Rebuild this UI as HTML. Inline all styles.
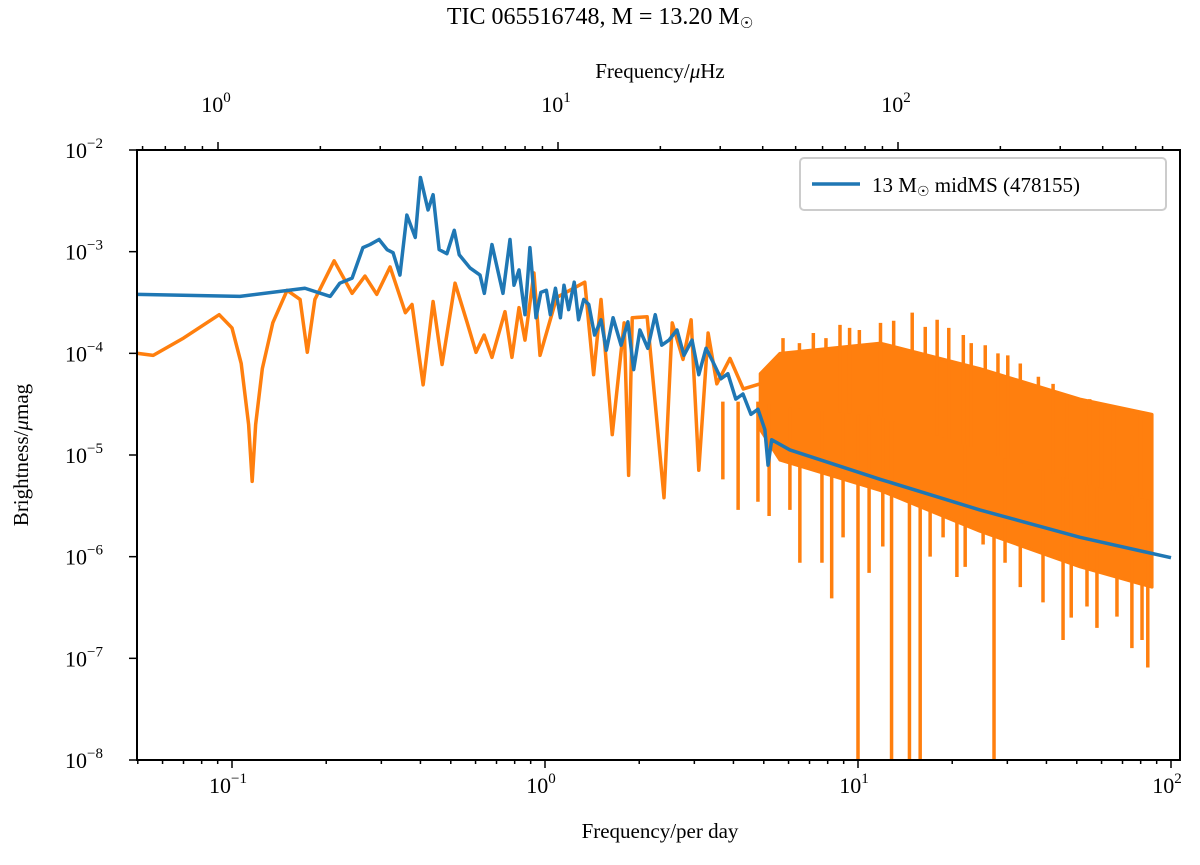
<!DOCTYPE html>
<html><head><meta charset="utf-8"><style>
html,body{margin:0;padding:0;background:#fff;}
svg text{font-family:"Liberation Serif","DejaVu Serif",serif;fill:#000;}
</style></head><body>
<svg id="chart" width="1200" height="860" viewBox="0 0 1200 860" xmlns="http://www.w3.org/2000/svg">
<text x="600" y="24" text-anchor="middle" font-size="24">TIC 065516748, M = 13.20 M<tspan font-family="DejaVu Sans" font-size="15" dy="4">☉</tspan></text>
<text x="660" y="78" text-anchor="middle" font-size="21">Frequency/<tspan font-style="italic">μ</tspan>Hz</text>
<text x="660" y="838" text-anchor="middle" font-size="21">Frequency/per day</text>
<text x="28" y="455" text-anchor="middle" font-size="21" transform="rotate(-90 28 455)">Brightness/<tspan font-style="italic">μ</tspan>mag</text>
<g id="plot"></g>
<g id="axes"></g>
<g>
<rect x="800" y="158" width="366" height="52" rx="4" fill="#fff" stroke="#ccc" stroke-width="2"/>
<line x1="812" y1="184" x2="860" y2="184" stroke="#1f77b4" stroke-width="3.5"/>
<text x="872" y="192" font-size="21">13 M<tspan font-family="DejaVu Sans" font-size="14" dy="4">☉</tspan><tspan dy="-4"> midMS (478155)</tspan></text>
</g>
</svg>
<script>
// ---- data ----
const blueFreq=[0.050,0.106,0.171,0.206,0.221,0.242,0.262,0.276,0.295,0.313,0.327,0.344,0.362,0.385,0.400,0.423,0.439,0.459,0.486,0.513,0.532,0.576,0.620,0.640,0.677,0.734,0.773,0.796,0.826,0.863,0.895,0.936,0.97,1.01,1.04,1.08,1.12,1.15,1.19,1.24,1.28,1.33,1.38,1.44,1.51,1.57,1.65,1.75,1.84,1.92,2.01,2.13,2.25,2.36,2.49,2.64,2.78,2.95,3.10,3.27,3.46,3.65,3.84,4.07,4.29,4.55,4.79,5.04,5.16,5.3,6.06,11.8,24.5,51.2,100];
const blueLogAmp=[-3.42,-3.44,-3.36,-3.44,-3.31,-3.26,-2.96,-2.93,-2.88,-2.98,-3.01,-3.23,-2.64,-2.86,-2.27,-2.59,-2.44,-2.98,-3.02,-2.79,-3.03,-3.16,-3.23,-3.41,-2.93,-3.41,-2.88,-3.33,-3.18,-3.62,-2.96,-3.65,-3.40,-3.38,-3.62,-3.36,-3.65,-3.33,-3.57,-3.30,-3.67,-3.47,-3.52,-3.82,-3.67,-3.97,-3.65,-3.92,-3.69,-4.16,-3.77,-3.95,-3.62,-3.92,-3.87,-3.77,-4.02,-3.87,-4.21,-3.95,-4.10,-4.25,-4.20,-4.45,-4.40,-4.60,-4.55,-4.75,-5.10,-4.85,-4.95,-5.24,-5.54,-5.81,-6.01];
const orangeFreq=[0.050,0.056,0.070,0.091,0.100,0.107,0.113,0.116,0.119,0.125,0.135,0.150,0.165,0.174,0.184,0.212,0.242,0.266,0.290,0.320,0.358,0.376,0.408,0.439,0.469,0.516,0.563,0.602,0.639,0.677,0.745,0.784,0.826,0.863,0.922,0.964,1.09,1.34,1.43,1.51,1.64,1.79,1.85,1.90,2.12,2.40,2.55,2.76,2.93,3.10,3.32,3.54,3.90,4.30,4.87];
const orangeLogAmp=[-4.00,-4.02,-3.85,-3.62,-3.75,-4.10,-4.70,-5.26,-4.70,-4.15,-3.70,-3.38,-3.47,-3.99,-3.47,-3.09,-3.41,-3.24,-3.42,-3.15,-3.60,-3.52,-4.31,-3.49,-4.11,-3.31,-3.69,-3.99,-3.82,-4.04,-3.59,-4.04,-3.55,-3.87,-3.21,-4.02,-3.45,-3.30,-4.21,-3.47,-4.80,-3.70,-5.20,-3.65,-3.64,-5.42,-3.70,-4.06,-3.67,-5.15,-3.80,-4.30,-4.05,-4.35,-4.30];
const bandFreq=[4.87,5.63,11.8,24.5,51.2,87];
const bandUpperLog=[-4.20,-4.00,-3.90,-4.15,-4.45,-4.60];
const bandLowerLog=[-4.75,-5.05,-5.35,-5.75,-6.10,-6.30];
const spikeFreq=[5.76,8.76,10.1,11.8,14.9,16.4,17.9,21.7,25.5,30.1,37.7,46.5,65.4,73.7,6.5,7.2,7.9,9.4,13.0,19.5,23.0,28.0,33.0,42.0,55.0,60.0,80.0,3.70,4.14,4.79,6.06,6.52,7.67,8.24,8.96,10.0,10.85,12.8,14.6,15.8,18.7,20.7,25.1,27.2,29.5,39.0,45.2,53.9,67.2,80.8,84.3,5.2,12.0,17.0,22.0,33.0,48.0,58.0,75.0];
const spikeLogAmp=[-3.85,-3.72,-3.77,-3.70,-3.60,-3.74,-3.67,-3.82,-3.92,-4.02,-4.23,-4.43,-4.56,-4.61,-3.90,-3.80,-3.85,-3.75,-3.68,-3.75,-3.90,-4.00,-4.10,-4.30,-4.45,-4.50,-4.60,-5.24,-5.54,-5.46,-5.54,-6.06,-6.06,-6.41,-5.81,-8.2,-6.16,-8.2,-8.2,-8.2,-5.81,-6.20,-5.88,-8.2,-6.06,-6.45,-6.82,-6.49,-6.59,-6.82,-7.09,-5.60,-5.90,-6.00,-6.10,-6.30,-6.60,-6.70,-6.90];
const yTickExp=[-2,-3,-4,-5,-6,-7,-8];
const xTickExp=[-1,0,1,2];
const topTickExp=[0,1,2];

// ---- axes functions ----
const L=137,R=1180,T=150,B=760;
const X=f=>545+313*Math.log10(f);
const Y=lg=>T+(-2-lg)*(B-T)/6;
const XT=u=>218+340*Math.log10(u); // μHz top axis
const NS="http://www.w3.org/2000/svg";
function mk(tag,attrs,parent){const e=document.createElementNS(NS,tag);for(const k in attrs)e.setAttribute(k,attrs[k]);parent.appendChild(e);return e;}
const plot=document.getElementById('plot'),axes=document.getElementById('axes');
const clip=mk('clipPath',{id:'clip'},plot);mk('rect',{x:L,y:T,width:R-L,height:B-T},clip);
const g=mk('g',{'clip-path':'url(#clip)'},plot);

let bp=bandFreq.map((f,i)=>X(f)+','+Y(bandUpperLog[i])).concat(bandFreq.slice().reverse().map((f,i)=>X(f)+','+Y(bandLowerLog[bandFreq.length-1-i])));
const band=mk('polygon',{points:bp.join(' '),fill:'#ff7f0e',stroke:'#ff7f0e','stroke-width':3,'stroke-linejoin':'round'},g);


spikeFreq.forEach((f,i)=>{
 let j=0;while(j<bandFreq.length-2&&bandFreq[j+1]<f)j++;
 let t=(Math.log10(f)-Math.log10(bandFreq[j]))/(Math.log10(bandFreq[j+1])-Math.log10(bandFreq[j]));
 t=Math.max(0,Math.min(1,t));
 const c=(bandUpperLog[j]+(bandUpperLog[j+1]-bandUpperLog[j])*t+bandLowerLog[j]+(bandLowerLog[j+1]-bandLowerLog[j])*t)/2;
 const s=mk('line',{x1:X(f),x2:X(f),y1:Y(c),y2:Y(spikeLogAmp[i]),stroke:'#ff7f0e','stroke-width':3.5},g);
 
 
});
const op=mk('polyline',{points:orangeFreq.map((f,i)=>X(f)+','+Y(orangeLogAmp[i])).join(' '),fill:'none',stroke:'#ff7f0e','stroke-width':3.5,'stroke-linejoin':'round'},g);


const bl=mk('polyline',{points:blueFreq.map((f,i)=>X(f)+','+Y(blueLogAmp[i])).join(' '),fill:'none',stroke:'#1f77b4','stroke-width':3.5,'stroke-linejoin':'round'},g);



const fr=mk('rect',{x:L,y:T,width:R-L,height:B-T,fill:'none',stroke:'#000','stroke-width':2},axes);


function lbl(x,y,exp,anchor){
 const t=mk('text',{x:x,y:y,'text-anchor':anchor,'font-size':22},axes);
 t.textContent='10';
 const s=mk('tspan',{dy:-10,'font-size':15},t);s.textContent=exp<0?'−'+(-exp):String(exp);
 return t;
}
yTickExp.forEach(e=>{
 const y=Y(e);
 mk('line',{x1:L-8,x2:L,y1:y,y2:y,stroke:'#000','stroke-width':1.5},axes);
 const t=lbl(L-12-22,y+8,e,'end');
 
 
});
for(let d=-2;d<=1;d++)for(let m=1;m<10;m++){const f=m*Math.pow(10,d);const x=X(f);if(x<L-0.5||x>R+0.5)continue;
 mk('line',{x1:x,x2:x,y1:B,y2:B+(m==1?8:4),stroke:'#000','stroke-width':1.5},axes);}
mk('line',{x1:X(100),x2:X(100),y1:B,y2:B+8,stroke:'#000','stroke-width':1.5},axes);
xTickExp.forEach(e=>{
 const t=lbl(X(Math.pow(10,e))-4,B+33,e,'middle');
 
 
});
for(let d=-1;d<=2;d++)for(let m=1;m<10;m++){const u=m*Math.pow(10,d);const x=XT(u);if(x<L-0.5||x>R+0.5)continue;
 mk('line',{x1:x,x2:x,y1:T,y2:T-(m==1?8:4),stroke:'#000','stroke-width':1.5},axes);}
topTickExp.forEach(e=>{
 const t=lbl(XT(Math.pow(10,e))-2,T-38,e,'middle');
 
 
});
</script>
</body></html>
